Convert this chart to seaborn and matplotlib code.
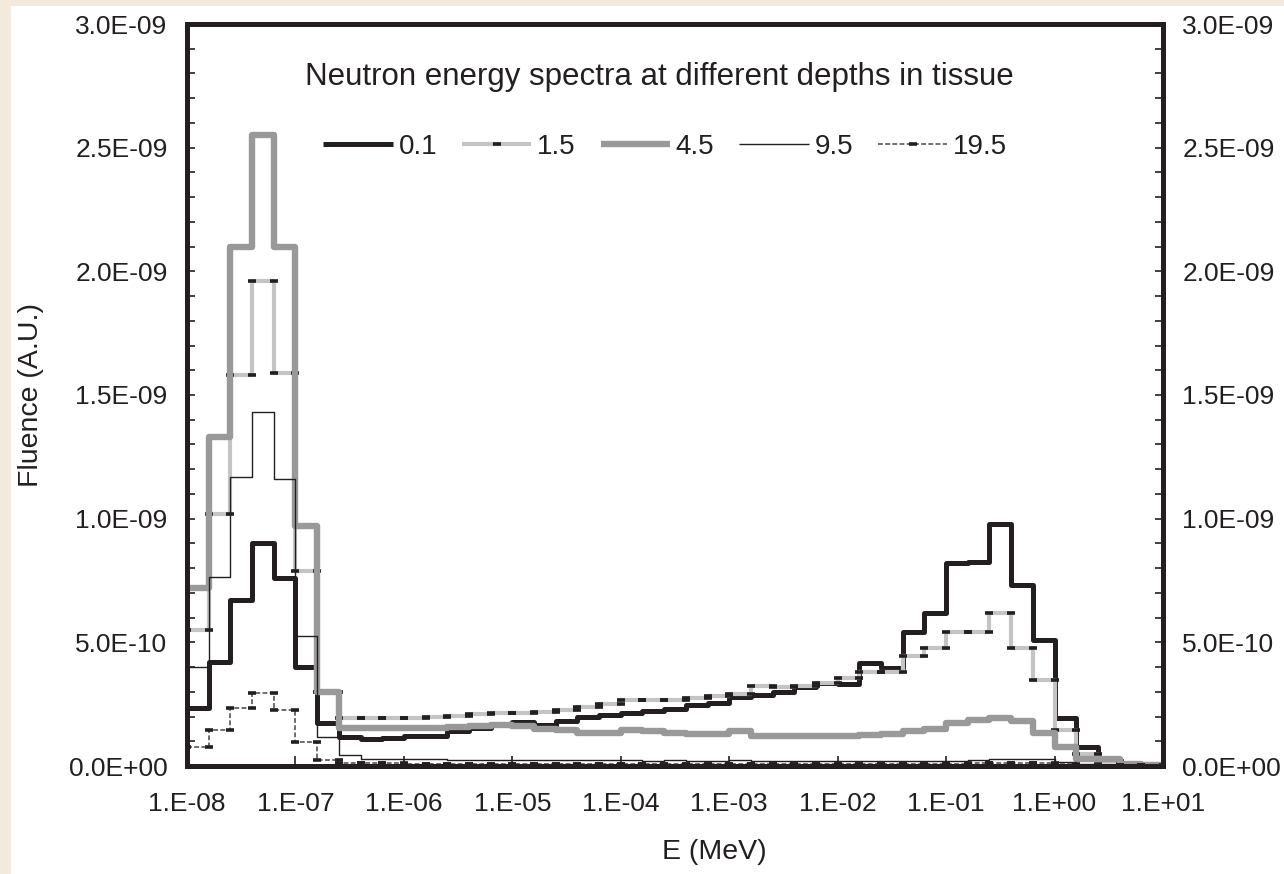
import numpy as np
import pandas as pd
import matplotlib
matplotlib.use("Agg")
import matplotlib.pyplot as plt
from matplotlib.patches import Rectangle
from matplotlib.ticker import FixedLocator, FuncFormatter, LogLocator, NullFormatter
import seaborn as sns

# ---------------- data (fluence per bin, in units of 1e-9) ----------------
# 5 bins per decade from 1e-8 MeV to 1e1 MeV (45 bins)
bin_edges_exp = np.arange(-8.0, 1.0001, 0.2)

depth_labels = ["0.1", "1.5", "4.5", "9.5", "19.5"]

fluence_01 = [0.235, 0.42, 0.67, 0.90, 0.76, 0.40, 0.175, 0.117, 0.11, 0.115,
              0.12, 0.12, 0.14, 0.155, 0.17, 0.178, 0.166, 0.18, 0.20, 0.206,
              0.214, 0.222, 0.23, 0.247, 0.255, 0.28, 0.287, 0.30, 0.32, 0.336,
              0.33, 0.415, 0.395, 0.54, 0.62, 0.82, 0.825, 0.98, 0.73, 0.51,
              0.195, 0.075, 0.025, 0.01, 0.005]
fluence_15 = [0.55, 1.02, 1.58, 1.96, 1.59, 0.79, 0.30, 0.193, 0.193, 0.193,
              0.195, 0.20, 0.202, 0.209, 0.213, 0.216, 0.22, 0.226, 0.24, 0.25,
              0.265, 0.267, 0.267, 0.276, 0.284, 0.29, 0.323, 0.32, 0.323, 0.334,
              0.355, 0.38, 0.38, 0.445, 0.476, 0.54, 0.54, 0.62, 0.476, 0.348,
              0.146, 0.05, 0.02, 0.01, 0.005]
fluence_45 = [0.72, 1.33, 2.10, 2.55, 2.10, 0.97, 0.30, 0.155, 0.155, 0.155,
              0.155, 0.155, 0.157, 0.16, 0.165, 0.163, 0.15, 0.146, 0.135, 0.133,
              0.145, 0.14, 0.135, 0.13, 0.13, 0.14, 0.12, 0.12, 0.12, 0.12,
              0.12, 0.125, 0.13, 0.14, 0.15, 0.175, 0.185, 0.195, 0.18, 0.135,
              0.075, 0.03, 0.03, 0.01, 0.005]
fluence_95 = [0.40, 0.765, 1.17, 1.43, 1.16, 0.525, 0.117, 0.045, 0.03, 0.03,
              0.028, 0.027, 0.025, 0.026, 0.025, 0.024, 0.025, 0.024, 0.023, 0.024,
              0.023, 0.022, 0.023, 0.022, 0.022, 0.023, 0.022, 0.021, 0.022, 0.022,
              0.021, 0.022, 0.022, 0.021, 0.022, 0.022, 0.023, 0.03, 0.03, 0.03,
              0.015, 0.01, 0.008, 0.005, 0.003]
fluence_195 = [0.077, 0.146, 0.235, 0.295, 0.227, 0.097, 0.025, 0.012, 0.011, 0.011,
               0.01, 0.01, 0.01, 0.01, 0.01, 0.01, 0.01, 0.01, 0.01, 0.01,
               0.01, 0.01, 0.01, 0.01, 0.01, 0.01, 0.01, 0.01, 0.01, 0.01,
               0.01, 0.01, 0.01, 0.01, 0.01, 0.01, 0.011, 0.012, 0.012, 0.011,
               0.008, 0.006, 0.005, 0.004, 0.003]

y_ticks = [0.0, 0.5e-9, 1.0e-9, 1.5e-9, 2.0e-9, 2.5e-9, 3.0e-9]
x_ticks = [1e-8, 1e-7, 1e-6, 1e-5, 1e-4, 1e-3, 1e-2, 1e-1, 1e0, 1e1]

series = dict(zip(depth_labels, [fluence_01, fluence_15, fluence_45, fluence_95, fluence_195]))

# ---------------- build step table ----------------
edges = 10.0 ** bin_edges_exp
rows = []
for lab, vals in series.items():
    for i, v in enumerate(vals):
        rows.append((lab, edges[i], v * 1e-9))
        rows.append((lab, edges[i + 1], v * 1e-9))
df = pd.DataFrame(rows, columns=["depth", "E", "F"])

styles = {
    "0.1": dict(color="#231f20", lw=3.6, ls="-", marker=None),
    "1.5": dict(color="#c4c4c4", lw=3.0, ls="-", marker="_"),
    "4.5": dict(color="#999999", lw=4.6, ls="-", marker=None),
    "9.5": dict(color="#231f20", lw=1.0, ls="-", marker=None),
    "19.5": dict(color="#6e6e6e", lw=1.4, ls=(0, (2.5, 1.2)), marker="_"),
}

# ---------------- figure ----------------
fig = plt.figure(figsize=(12.84, 8.74), dpi=100)
fig.patch.set_facecolor("#f3eadb")
fig.add_artist(Rectangle((11 / 1284, 0), 1, 1 - 6 / 874, transform=fig.transFigure,
                         facecolor="white", edgecolor="none", zorder=-10))

ax = fig.add_axes([187 / 1284, 1 - 766 / 874, (1163 - 187) / 1284, (766 - 24) / 874])
ax.set_facecolor("white")

for lab in depth_labels:
    st = styles[lab]
    sub = df[df["depth"] == lab]
    kw = dict(color=st["color"], linewidth=st["lw"], linestyle=st["ls"])
    if st["marker"]:
        kw.update(marker=st["marker"], markersize=6, markeredgewidth=2.6,
                  markeredgecolor="#231f20", markerfacecolor="#231f20")
    sns.lineplot(x=sub["E"].values, y=sub["F"].values, estimator=None, sort=False,
                 ax=ax, label=lab, solid_capstyle="butt", **kw)

ax.set_xscale("log")
ax.set_xlim(1e-8, 1e1)
ax.set_ylim(0, 3e-9)

fam = ["Liberation Sans", "DejaVu Sans"]
ax.xaxis.set_major_locator(FixedLocator(x_ticks))
ax.xaxis.set_minor_locator(LogLocator(base=10, subs=np.arange(2, 10)))
ax.xaxis.set_minor_formatter(NullFormatter())
ax.xaxis.set_major_formatter(FuncFormatter(lambda v, p: f"{v:#.0E}"))
ax.yaxis.set_major_locator(FixedLocator(y_ticks))
ax.yaxis.set_minor_locator(FixedLocator(np.arange(0, 3.01e-9, 1e-10)))
ax.yaxis.set_major_formatter(FuncFormatter(lambda v, p: f"{v:.1E}"))

ax.tick_params(axis="both", which="both", direction="in", color="#231f20",
               width=1.2, labelsize=19, labelcolor="#231f20")
ax.tick_params(axis="y", which="both", length=6, left=True, right=True,
               labelleft=True, labelright=True, pad=14)
ax.tick_params(axis="x", which="major", length=7, pad=19)
ax.tick_params(axis="x", which="minor", length=5)
for t in ax.get_xticklabels() + ax.get_yticklabels():
    t.set_family(fam)

for sp in ax.spines.values():
    sp.set_linewidth(3.6)
    sp.set_color("#231f20")
    sp.set_zorder(5)

ax.set_xlabel("E (MeV)", fontsize=20.5, family=fam, color="#231f20", labelpad=18)
ax.xaxis.set_label_coords(0.54, -0.098)
ax.set_ylabel("Fluence (A.U.)", fontsize=20.5, family=fam, color="#231f20", labelpad=18)

ax.text(0.484, 0.9286, "Neutron energy spectra at different depths in tissue",
        transform=ax.transAxes, ha="center", va="center", fontsize=22.5,
        family=fam, color="#231f20")

leg = ax.legend(loc="center", bbox_to_anchor=(0.490, 0.834), ncol=5, frameon=False,
                handlelength=2.5, handletextpad=0.2, columnspacing=0.9,
                prop=dict(family=fam, size=20), labelcolor="#231f20")

fig.savefig("out.png", dpi=100, facecolor=fig.get_facecolor())
